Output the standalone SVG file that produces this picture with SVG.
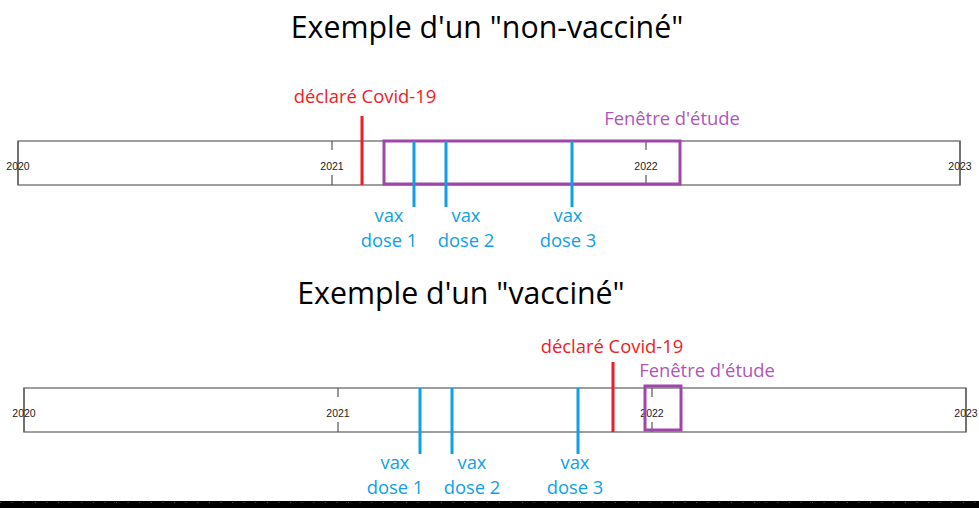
<svg xmlns="http://www.w3.org/2000/svg" width="979" height="508" viewBox="0 0 979 508">
<style>
.title{font-family:"Open Sans","Liberation Sans",sans-serif;font-size:30.3px;fill:#000;text-anchor:middle}
.yr{font-family:"Liberation Sans",Arial,sans-serif;font-size:10.5px;fill:#222;text-anchor:middle}
.axis{fill:#fff;stroke:#7f7f7f;stroke-width:1.5}
.tick{stroke:#555;stroke-width:1.2}
.red{stroke:#ee1c25;stroke-width:3}
.blue{stroke:#0ea1e6;stroke-width:3}
.win{fill:none;stroke:#a045aa;stroke-width:3}
.lr{font-family:"Open Sans","Liberation Sans",sans-serif;font-size:18.4px;fill:#ee1c25;text-anchor:middle}
.lb{font-family:"Open Sans","Liberation Sans",sans-serif;font-size:18.4px;fill:#0ea1e6;text-anchor:middle}
.lp{font-family:"Open Sans","Liberation Sans",sans-serif;font-size:18.4px;fill:#b055b8;text-anchor:middle}
</style>
<rect width="979" height="508" fill="#fff"/>

<g id="top">
  <text class="title" x="487" y="38">Exemple d'un "non-vacciné"</text>
  <g id="top-axis">
    <rect class="axis" x="18" y="141" width="942" height="44"/>
    <path class="tick" d="M332 141V150M332 175V185M646 141V150M646 175V185M18 141V185M960 141V185"/>
    <text class="yr" x="18" y="169.5">2020</text>
    <text class="yr" x="332" y="169.5">2021</text>
    <text class="yr" x="646" y="169.5">2022</text>
    <text class="yr" x="960" y="169.5">2023</text>
  </g>
  <g id="top-window">
    <rect class="win" x="384" y="141" width="296" height="43"/>
    <text class="lp" x="672" y="125">Fenêtre d'étude</text>
  </g>
  <g id="top-covid">
    <line class="red" x1="362" y1="116" x2="362" y2="185"/>
    <text class="lr" x="365" y="103">déclaré Covid-19</text>
  </g>
  <g id="top-dose1">
    <line class="blue" x1="414" y1="141" x2="414" y2="207"/>
    <text class="lb" x="389" y="222">vax</text>
    <text class="lb" x="389" y="247">dose 1</text>
  </g>
  <g id="top-dose2">
    <line class="blue" x1="446" y1="141" x2="446" y2="207"/>
    <text class="lb" x="466" y="222">vax</text>
    <text class="lb" x="466" y="247">dose 2</text>
  </g>
  <g id="top-dose3">
    <line class="blue" x1="572" y1="141" x2="572" y2="207"/>
    <text class="lb" x="568" y="222">vax</text>
    <text class="lb" x="568" y="247">dose 3</text>
  </g>
</g>

<g id="bottom">
  <text class="title" x="461" y="304">Exemple d'un "vacciné"</text>
  <g id="bottom-axis">
    <rect class="axis" x="24" y="388" width="942" height="44"/>
    <path class="tick" d="M338 388V397M338 422V432M652 388V397M652 422V432M24 388V432M966 388V432"/>
    <text class="yr" x="24" y="416.5">2020</text>
    <text class="yr" x="338" y="416.5">2021</text>
    <text class="yr" x="652" y="416.5">2022</text>
    <text class="yr" x="966" y="416.5">2023</text>
  </g>
  <g id="bottom-window">
    <rect class="win" x="645" y="386" width="36" height="44"/>
    <text class="lp" x="707" y="377">Fenêtre d'étude</text>
  </g>
  <g id="bottom-covid">
    <line class="red" x1="613" y1="362" x2="613" y2="432"/>
    <text class="lr" x="612" y="353">déclaré Covid-19</text>
  </g>
  <g id="bottom-dose1">
    <line class="blue" x1="420" y1="388" x2="420" y2="454"/>
    <text class="lb" x="395" y="469">vax</text>
    <text class="lb" x="395" y="494">dose 1</text>
  </g>
  <g id="bottom-dose2">
    <line class="blue" x1="452" y1="388" x2="452" y2="454"/>
    <text class="lb" x="472" y="469">vax</text>
    <text class="lb" x="472" y="494">dose 2</text>
  </g>
  <g id="bottom-dose3">
    <line class="blue" x1="578" y1="388" x2="578" y2="454"/>
    <text class="lb" x="575" y="469">vax</text>
    <text class="lb" x="575" y="494">dose 3</text>
  </g>
</g>

<g id="footer-bar">
  <rect x="0" y="501" width="979" height="7" fill="#000"/>
  <line x1="0" y1="502.5" x2="979" y2="502.5" stroke="#555" stroke-width="1" stroke-dasharray="1 10.6"/>
</g>
</svg>
